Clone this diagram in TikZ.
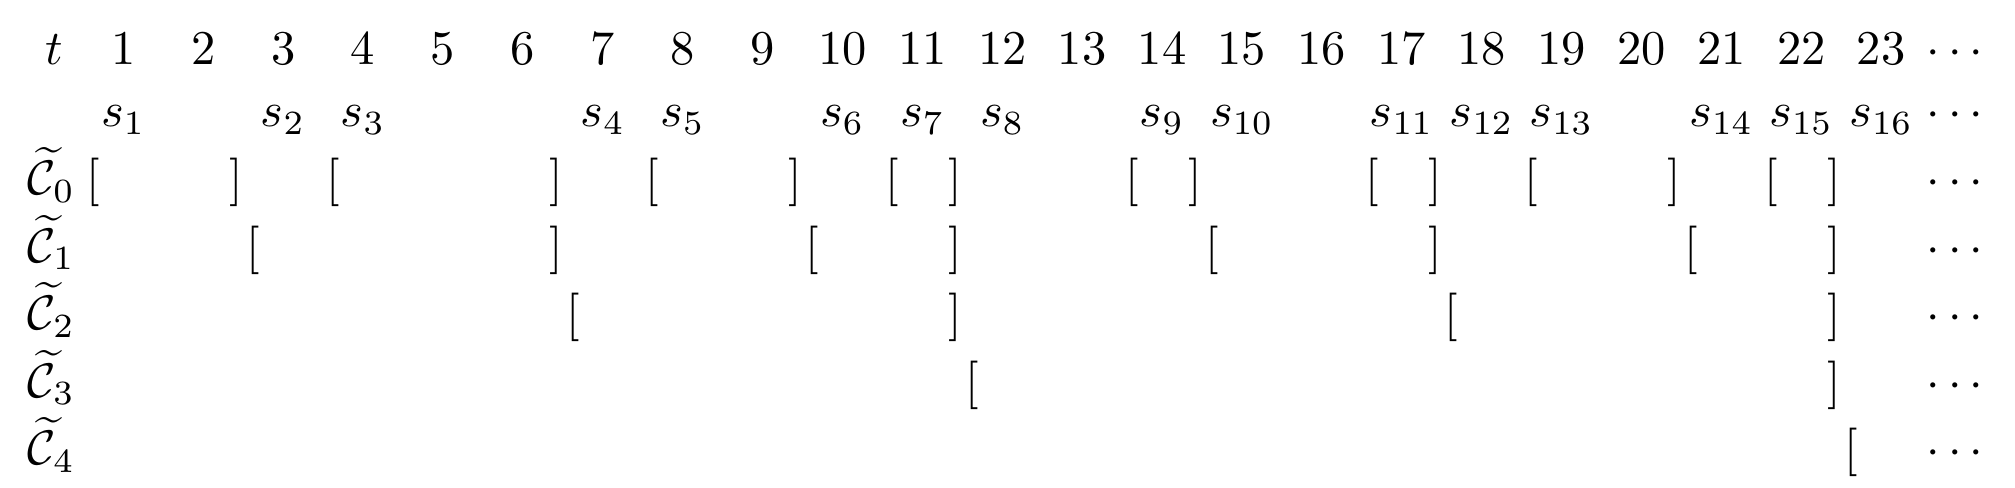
\documentclass[tikz,border=0pt]{standalone}
\begin{document}
\begin{tikzpicture}[x=0.2062pt,y=-0.2062pt,
  txt/.style={inner sep=0pt, outer sep=0pt, anchor=base}]
\useasboundingbox (0,0) rectangle (2015,488);
% header row
\node[txt] (tlab) at (54,65) {$t$};
\foreach \k in {1,...,23}
  \node[txt] (t\k) at ({123.4+79.9*(\k-1)},65) {$\k$};
\node[txt] (tdots) at (1955,65) {$\cdots$};
% s row
\foreach \i/\c in {1/1,2/3,3/4,4/7,5/8,6/10,7/11,8/12,9/14,10/15,11/17,12/18,13/19,14/21,15/22,16/23}
  \node[txt] (s\i) at ({123.4+79.9*(\c-1)},127) {$s_{\i}$};
\node[txt] (sdots) at (1955,127) {$\cdots$};
% C rows
\foreach \r in {0,...,4}{
  \node[txt] (C\r) at (51.5,{195+67.5*\r}) {$\widetilde{\mathcal{C}}_{\r}$};
  \node[txt] (Cdots\r) at (1955,{195+67.5*\r}) {$\cdots$};
}
\foreach \r/\ivs in {0/{1/2,4/6,8/9,11/11,14/14,17/17,19/20,22/22},
                     1/{3/6,10/11,15/17,21/22},
                     2/{7/11,18/22},
                     3/{12/22}}{
  \foreach \a/\b in \ivs {
    \node[txt] (o\r-\a) at ({123.4+79.9*(\a-1)-30},{195+67.5*\r}) {$[$};
    \node[txt] (c\r-\b) at ({123.4+79.9*(\b-1)+33},{195+67.5*\r}) {$]$};
  }
}
\node[txt] (o4-23) at ({123.4+79.9*22-30},{195+67.5*4}) {$[$};
\end{tikzpicture}
\end{document}
